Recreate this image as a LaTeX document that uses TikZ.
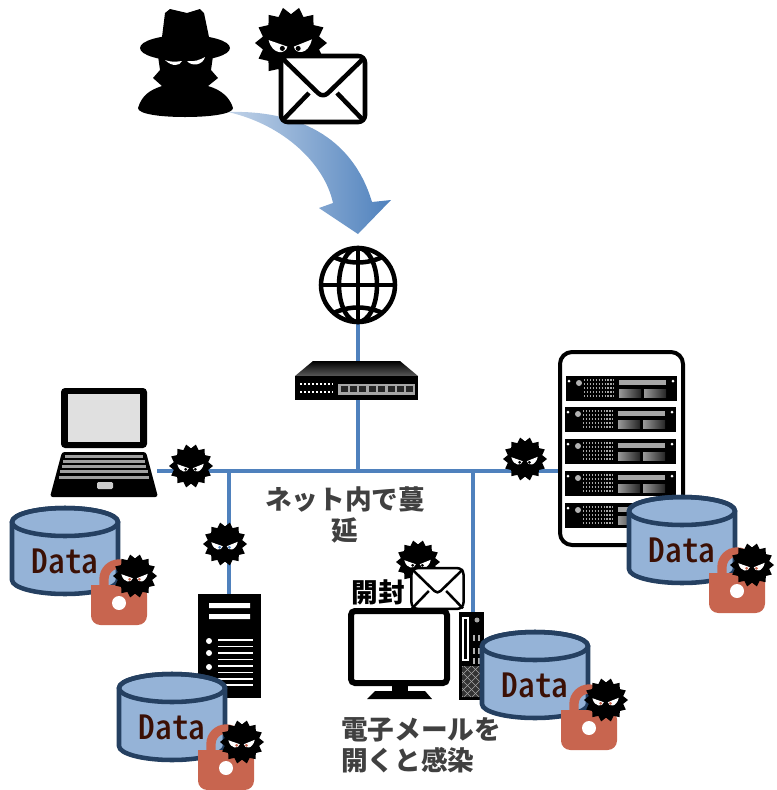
\documentclass[tikz,border=0pt]{standalone}
\usepackage{fontspec}
\usepackage{tikz}
\newfontfamily\jpfont{Noto Sans CJK JP}
\newfontfamily\datafont[CharacterWidth=Half]{Noto Sans CJK JP Medium}
\definecolor{netblue}{HTML}{4F81BD}
\definecolor{lockred}{HTML}{C8654F}
\definecolor{dbfill}{HTML}{95B3D7}
\definecolor{dbline}{HTML}{254061}
\definecolor{datatext}{HTML}{3B1005}
\definecolor{labelgray}{HTML}{404040}
\tikzset{
  netline/.style={netblue,line width=3pt},
  jplabel/.style={font=\jpfont\bfseries\fontsize{20}{23.5}\selectfont,text=labelgray,align=center,inner sep=0pt},
  pics/virus/.style={code={
    \fill (0:1) \foreach \i in {1,...,27} { -- ({\i*360/28}:{ifthenelse(mod(\i,2)==0,1,0.8)}) } -- cycle;
    % eyes
    \fill[white] (-.62,-.08) -- (-.1,.1) .. controls (-.14,.32) and (-.52,.34) .. cycle;
    \fill[white] (.58,-.1) -- (.08,.1) .. controls (.12,.32) and (.48,.34) .. cycle;
    \fill[#1] (-.24,.15) circle (.07);
    \fill[#1] (.2,.15) circle (.07);
  }},
  pics/dbcyl/.style={code={
    \filldraw[fill=dbfill,draw=dbline,line width=3.4pt]
      (-53,-29) -- (-53,29) arc (180:0:53 and 14) -- (53,-29) arc (0:-180:53 and 14) -- cycle;
    \draw[dbline,line width=3.4pt] (0,-29) ellipse (53 and 14);
    \node[font=\datafont\fontsize{25}{25}\selectfont,text=datatext,inner sep=0pt] (-label) at (0,10) {Data};
  }},
  pics/lock/.style={code={
    \draw[lockred,line width=7pt] (-15,-15) -- (-15,-26) arc (180:360:15) -- (15,-15);
    \fill[lockred,rounded corners=7pt] (-28,-12) -- (-28,20) -- (28,20) -- (28,-20) -- (-28,-20) [sharp corners] -- cycle;
    \fill[lockred] (-28,-20) rectangle (0,0);
    \fill[white] (0,-2) circle (7);
  }},
  pics/mail/.style={code={
    \filldraw[fill=white,rounded corners=5pt] (-42,-33) rectangle (42,33);
    \draw[line join=round] (-41,-31) -- (-5,4) .. controls (-2,7) and (2,7) .. (5,4) -- (41,-31);
    \draw (-41,32) -- (-14,4) (41,32) -- (14,4);
  }}
}
\begin{document}
\begin{tikzpicture}[x=0.75pt,y=-0.75pt]
\useasboundingbox (0,0) rectangle (777,790);

\coordinate (globe) at (358,268);
\coordinate (switch) at (358,380);
\coordinate (hub) at (358,471);
\coordinate (laptop) at (157,471);
\coordinate (rack) at (560,471);
\coordinate (bracha) at (229,471);
\coordinate (branchb) at (473,471);
\coordinate (towera) at (229,596);
\coordinate (towerb) at (473,614);

% network first
\draw[netline] (globe) -- (switch) -- (hub);
\draw[netline] (laptop) -- (rack);
\draw[netline] (bracha) -- (towera);
\draw[netline] (branchb) -- (towerb);

% big arrow
\shade[left color=netblue!35,right color=netblue]
  (228,112) .. controls (295,110) and (352,135) .. (372,202) -- (391,200)
  -- (358,234) -- (319,208) -- (333,203)
  .. controls (325,165) and (285,125) .. (228,112) -- cycle;

% attacker
\fill (162,37) -- (165,13) -- (170,9) -- (187,13) -- (200,9) -- (204,13) -- (209,37) -- cycle;
\fill (185,48) ellipse (45 and 13);
\fill (138,108) .. controls (142,95) and (150,90) .. (162,86) -- (153,78) -- (160,70) -- (158,56)
  -- (213,56) -- (211,70) -- (218,78) -- (208,86) .. controls (222,90) and (230,98) .. (233,108)
  .. controls (233,114) and (210,117) .. (185,117) .. controls (160,117) and (138,114) .. (138,108) -- cycle;
\fill[white] (165,60) .. controls (170,62) and (175,62) .. (182,61) .. controls (180,66) and (172,67) .. (165,60) -- cycle;
\fill[white] (187,61) .. controls (194,62) and (200,60) .. (205,57) .. controls (203,65) and (192,67) .. (187,61) -- cycle;

% infected mail
\pic at (291,43) [scale=36] {virus=black};
\pic at (323,89) [line width=3.4pt] {mail};

% globe is open, the line shows through
\begin{scope}[line width=3.4pt]
  \draw (358,285) circle (37);
  \draw (358,285) ellipse (19 and 37);
  \draw (358,248) -- (358,322) (321,285) -- (395,285);
  \begin{scope}
    \clip (358,285) circle (37);
    \draw (325,252) .. controls (345,266) and (371,266) .. (391,252);
    \draw (325,318) .. controls (345,304) and (371,304) .. (391,318);
  \end{scope}
\end{scope}

% switch
\shade[top color=black,bottom color=gray!70!black] (313,361) -- (400,361) -- (418,376) -- (295,376) -- cycle;
\fill (295,376) rectangle (418,400);
\fill[gray!70] (338,384) rectangle (415,395);
\foreach \p in {0,...,7}
  \fill[black!85] ({340.5+\p*9.4},385.5) rectangle ({347.5+\p*9.4},392);
\foreach \dy in {384,392}
  \draw[white,line width=1.4pt,dash pattern=on 1.4pt off 1.6pt] (300,\dy) -- (333,\dy);

% laptop
\fill[rounded corners=3pt] (61,388) rectangle (147,448);
\fill[black!12] (68,394) rectangle (140,442);
\fill[rounded corners=2pt] (62,452) -- (146,452) -- (158,497) -- (50,497) -- cycle;
\foreach \kx/\ky in {65/455,63/460,62/465,60/470,59/476}
  \fill[gray!75] (\kx,\ky) rectangle ({207-\kx+1},{\ky+3});
\fill[black!20,rounded corners=1pt] (97,482) rectangle (113,489);

% tower server
\fill (198,594) rectangle (261,698);
\fill[white] (209,603) rectangle (250,608) (209,614) rectangle (250,619);
\foreach \dy in {641,653,667}
  \fill[white] (209,\dy) circle (3);
\foreach \dy in {640,646.5,653,659.5,666,672.5,679,685}
  \draw[white,line width=1.3pt] (218,\dy) -- (253,\dy);

% rack
\draw[line width=3pt,rounded corners=9pt] (560,352) rectangle (683,545);
\foreach \ux/\uy in {566/376,565/407,565/439,565/471,565/503} {
  \fill (\ux,\uy) rectangle ({\ux+111},{\uy+25});
  \fill[white] ({\ux+3},{\uy+5}) circle (1.5);
  \fill[white] ({\ux+107},{\uy+5}) circle (1.5);
  \fill[gray!60] ({\ux+13},{\uy+7}) circle (3);
  \foreach \ry in {4,8,12,16,20}
    \draw[gray!70,line width=.8pt,dash pattern=on 1pt off 1.2pt] ({\ux+18},{\uy+\ry}) -- ({\ux+48},{\uy+\ry});
  \fill[gray!70] ({\ux+53},{\uy+4}) rectangle ({\ux+100},{\uy+9});
  \shade[left color=gray!80,right color=gray!30!black] ({\ux+53},{\uy+13}) rectangle ({\ux+75},{\uy+21});
  \shade[left color=gray!80,right color=gray!30!black] ({\ux+78},{\uy+13}) rectangle ({\ux+100},{\uy+21});
}

% desktop
\filldraw[fill=white,line width=4.5pt,rounded corners=3pt] (351,611) rectangle (447,683);
\fill (392,686) rectangle (408,693);
\fill (375,691) -- (425,691) -- (432,699) -- (367,699) -- cycle;
\fill (459,612) rectangle (484,700);
\draw[white,line width=.8pt] (463,618) rectangle (468,660);
\fill[gray!70] (477,620) circle (2.5);
\foreach \sy in {635,648,658} {
  \fill[gray!60] (473,\sy) rectangle (475,{\sy+6});
  \fill[gray!60] (478,\sy) rectangle (480,{\sy+6});
}
\fill[black!80] (462,666) rectangle (481,697);
\begin{scope}
  \clip (462,666) rectangle (481,697);
  \foreach \s in {-30,-22,...,30} {
    \draw[gray!70,line width=.5pt] ({462+\s},666) -- ({493+\s},697);
    \draw[gray!70,line width=.5pt] ({493+\s},666) -- ({462+\s},697);
  }
\end{scope}

% opened mail
\pic at (418,562) [scale=22] {virus=black};
\pic at (437.5,588.5) [scale=.62,line width=1.9pt] {mail};

% data stores
\pic (dbA) at (65,551) {dbcyl};
\pic (dbB) at (172,717) {dbcyl};
\pic (dbC) at (535,675) {dbcyl};
\pic (dbD) at (682,540) {dbcyl};

\pic at (119,605) {lock};
\pic at (226,770) {lock};
\pic at (589,730) {lock};
\pic at (737,593) {lock};

% viruses on top
\pic at (191,466) [scale=22] {virus=black};
\pic at (225,544) [scale=22] {virus=netblue};
\pic at (525,459) [scale=22] {virus=black};
\pic at (135,576) [scale=22] {virus=lockred};
\pic at (242,742) [scale=22] {virus=lockred};
\pic at (606,700) [scale=22] {virus=lockred};
\pic at (752,565) [scale=22] {virus=lockred};

\node[jplabel] (spread) at (345,515) {ネット内で蔓\\延};
\node[jplabel,text=black] (opened) at (378,592) {開封};
\node[jplabel,align=left] (infect) at (421,745) {電子メールを\\開くと感染};
\end{tikzpicture}
\end{document}
